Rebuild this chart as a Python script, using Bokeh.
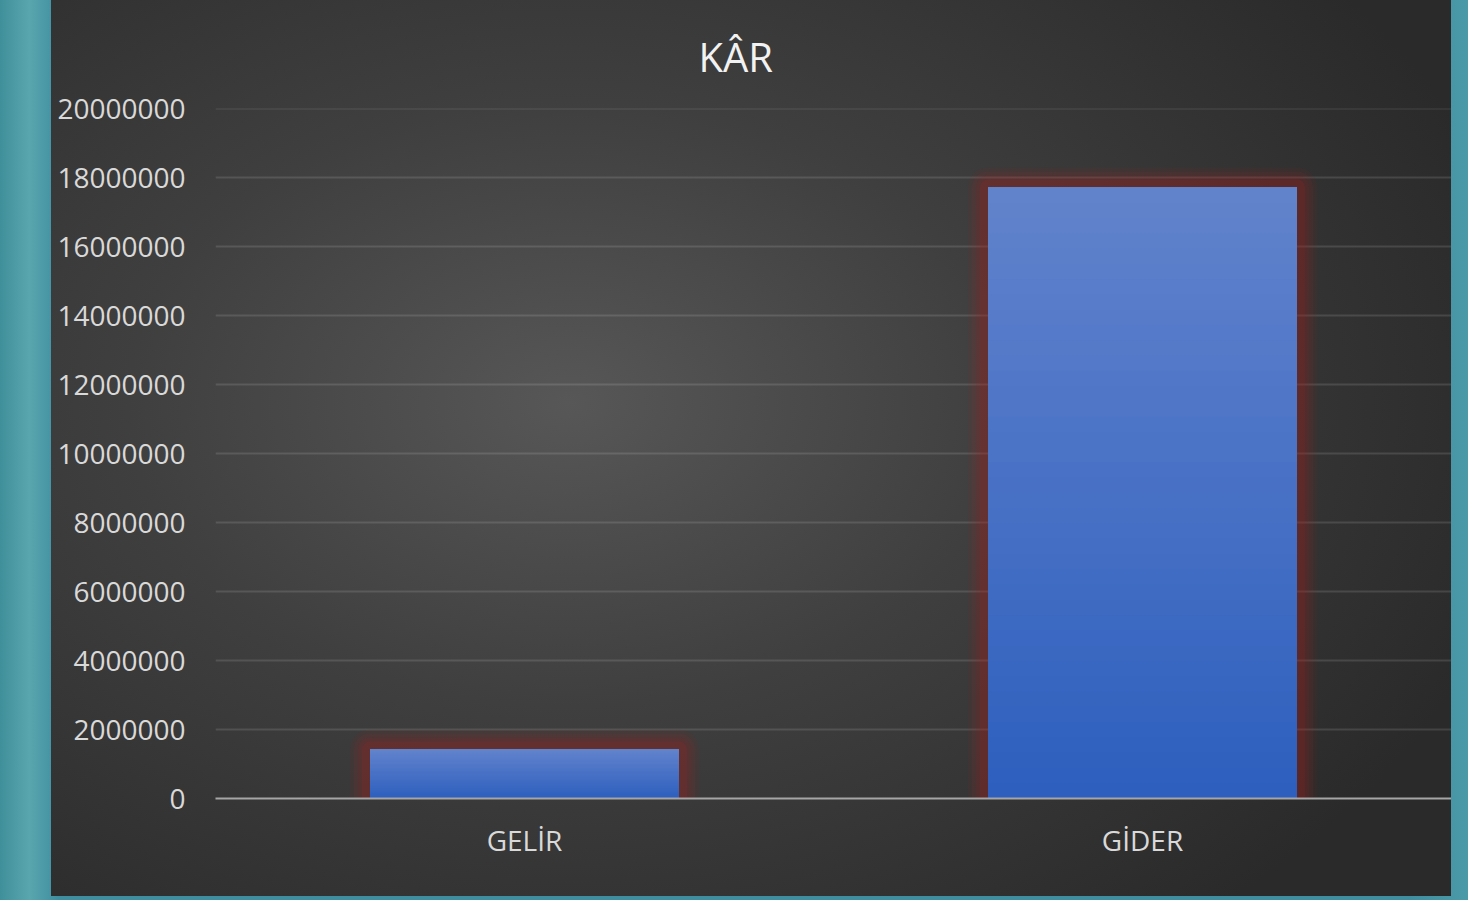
from bokeh.plotting import figure
from bokeh.models import Range1d, FixedTicker, BasicTickFormatter, Spacer
from bokeh.layouts import row
from bokeh.embed import file_html
from bokeh.resources import INLINE

# ---- data ----
categories = ["GELİR", "GİDER"]
values = [1420000, 17720000]
y_ticks = [0, 2000000, 4000000, 6000000, 8000000, 10000000,
           12000000, 14000000, 16000000, 18000000, 20000000]
title_text = "KÂR"

FONT = "Open Sans"

p = figure(width=1400, height=896, output_backend="svg", toolbar_location=None,
           x_range=Range1d(0, len(categories)),
           y_range=Range1d(0, y_ticks[-1] * 1.0006),
           min_border_left=164, min_border_right=0, min_border_top=108,
           min_border_bottom=98)
p.styles = {"background": "radial-gradient(ellipse 70% 75% at 37% 45%, #575757 0%, #3f3f3f 45%, #2a2a2a 100%)"}
p.background_fill_color = None
p.border_fill_color = None
p.outline_line_color = None

p.title.text = title_text
p.title.align = "left"
p.title.offset = 483
p.title.standoff = 50
p.title.text_font = FONT
p.title.text_font_size = "40px"
p.title.text_font_style = "normal"
p.title.text_color = "#f2f2f2"

# gridlines
p.xgrid.grid_line_color = None
p.ygrid.grid_line_color = "#ffffff"
p.ygrid.grid_line_alpha = 0.12
p.ygrid.grid_line_width = 2

# y axis
p.yaxis.ticker = FixedTicker(ticks=y_ticks)
p.yaxis.formatter = BasicTickFormatter(use_scientific=False)
p.yaxis.axis_line_color = None
p.yaxis.major_tick_line_color = None
p.yaxis.minor_tick_line_color = None
p.yaxis.major_label_text_font = FONT
p.yaxis.major_label_text_font_size = "28px"
p.yaxis.major_label_text_color = "#d9d9d9"
p.yaxis.major_label_standoff = 24

# x axis
centers = [i + 0.5 for i in range(len(categories))]
p.xaxis.ticker = FixedTicker(ticks=centers)
p.xaxis.major_label_overrides = {c: lab for c, lab in zip(centers, categories)}
p.xaxis.axis_line_color = "#a6a6a6"
p.xaxis.axis_line_width = 2
p.xaxis.major_tick_line_color = None
p.xaxis.minor_tick_line_color = None
p.xaxis.major_label_text_font = FONT
p.xaxis.major_label_text_font_size = "28px"
p.xaxis.major_label_text_color = "#d9d9d9"
p.xaxis.major_label_standoff = 16

half = 0.25

# red glow around bars (left, top, right sides)
for lw, a in [(40, 0.07), (32, 0.09), (24, 0.11), (16, 0.15)]:
    xs = [[c - half, c - half, c + half, c + half] for c in centers]
    ys = [[0, v, v, 0] for v in values]
    p.multi_line(xs, ys, line_color="#b01e1e", line_alpha=a, line_width=lw,
                 line_join="round", line_cap="butt")

# gradient bars (each strip runs to the bar top; later strips overpaint)
def lerp(c1, c2, t):
    return "#%02x%02x%02x" % tuple(int(round(a + (b - a) * t)) for a, b in zip(c1, c2))

bottom_c = (0x2d, 0x5f, 0xbe)
top_c = (0x62, 0x83, 0xcc)
N = 40
L, R, B, T, C = [], [], [], [], []
for c, v in zip(centers, values):
    for i in range(N):
        L.append(c - half)
        R.append(c + half)
        B.append(v * i / N)
        T.append(v)
        C.append(lerp(bottom_c, top_c, (i + 0.5) / N))
p.quad(left=L, right=R, bottom=B, top=T, fill_color=C, line_color=None)

left_pad = Spacer(width=51, height=896)
layout = row(left_pad, p)

html = file_html(layout, INLINE)
style = ("<style>html, body { background: linear-gradient(90deg, #3f8f9a 0%, "
         "#5aa6ae 2%, #3e8ea0 4%, #3e8ea0 96%, #4a9aa8 100%) !important; }</style>")
html = html.replace("</head>", style + "</head>", 1)
open("out.html", "w").write(html)
